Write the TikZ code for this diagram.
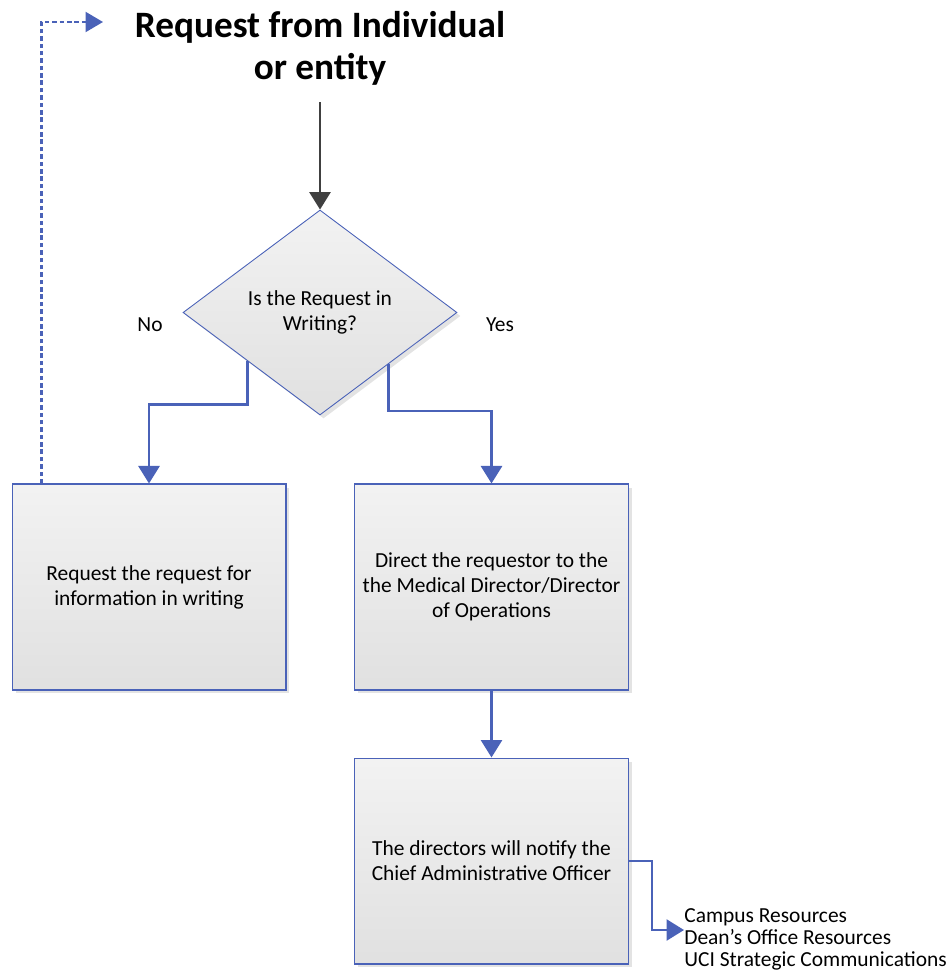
\documentclass[tikz,border=0pt]{standalone}
\usepackage{fontspec}
\setmainfont{Carlito}
\usetikzlibrary{arrows.meta,shapes.geometric,shadows,calc}
\definecolor{flowblue}{RGB}{74,98,184}
\definecolor{flowgrey}{RGB}{64,64,64}

\begin{document}
\begin{tikzpicture}[x=0.02cm,y=-0.02cm]
\tikzstyle{decision} = [diamond, draw=flowblue, line width=0.5pt, top color=black!5,
bottom color=black!12, minimum width=5.48cm, minimum height=4.1cm, inner sep=0pt,
align=center, font=\fontsize{12.2}{14.3}\selectfont,
drop shadow={shadow xshift=0.07cm, shadow yshift=-0.07cm, fill=black!18, opacity=0.6}]
\tikzstyle{block} = [rectangle, draw=flowblue, line width=0.6pt, top color=black!5,
bottom color=black!12, minimum width=5.48cm, minimum height=4.12cm, inner sep=0pt,
align=center, font=\fontsize{12.2}{14.3}\selectfont,
drop shadow={shadow xshift=0.07cm, shadow yshift=-0.07cm, fill=black!18, opacity=0.6}]
\tikzstyle{title} = [align=center, font=\fontsize{21.2}{23.8}\selectfont\bfseries]
\tikzstyle{label} = [font=\fontsize{12.2}{14.3}\selectfont]
\tikzstyle{list} = [align=left, inner sep=0pt, font=\fontsize{12.2}{12.5}\selectfont]
\tikzstyle{line} = [draw=flowblue, line width=1.6pt, -{Triangle[length=0.35cm, width=0.42cm]}]
\tikzstyle{darkline} = [draw=flowgrey, line width=1.6pt, -{Triangle[length=0.35cm, width=0.42cm]}]
\tikzstyle{loopline} = [draw=flowblue, line width=1.3pt, dash pattern=on 2.6pt off 1.6pt,
-{Triangle[length=0.35cm, width=0.4cm]}]

\useasboundingbox (0,0) rectangle (950,979);

% top
\node [title] (start) at (320,48) {Request from Individual\\or entity};
\node [decision] (decide) at (320,312.5) {Is the Request in\\Writing?};
\node [label] (no) at (150,325) {No};
\node [label] (yes) at (500,325) {Yes};
% row 2
\node [block] (ask) at (149,587) {Request the request for\\information in writing};
\node [block] (direct) at (491.5,587) {Direct the requestor to the\\the Medical Director/Director\\of Operations};
% row 3
\node [block] (notify) at (491.5,861) {The directors will notify the\\Chief Administrative Officer};
\node [list, anchor=west] (resources) at (684,939) {Campus Resources\\Dean’s Office Resources\\UCI Strategic Communications};

\coordinate (nostart) at ($(decide.west)!0.47!(decide.south)$);
\coordinate (loopend) at (103,22);

\draw [darkline] ([yshift=-0.22cm]start.south) -- (decide.north);
\path [line] (nostart) -- ++(0,44) -| (ask.north);
\path [line] (decide.south east) -- ++(0,47) -| (direct.north);
\path [line] (direct) -- (notify);
\path [line] (notify.east) -- ++(23,0) |- ([yshift=0.18cm]resources.west);
\path [loopline] ([xshift=0.6cm]ask.north west) |- (loopend);

\end{tikzpicture}
\end{document}
